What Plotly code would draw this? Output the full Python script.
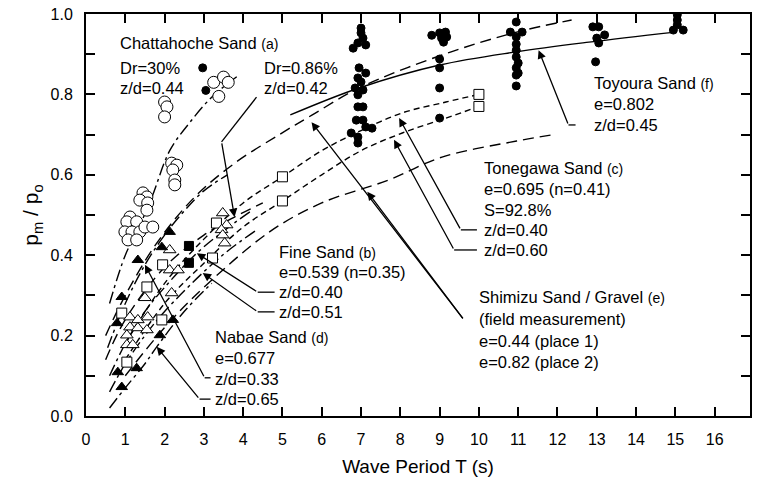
import plotly.graph_objects as go

# ---------------- measured points ----------------
# Chattahoche Sand (a), Dr=30 %, z/d=0.44 : open circles
chat30_T = [3.25, 3.5, 3.62, 3.38, 2.0, 2.06, 2.0, 2.18, 2.31, 2.21, 2.26, 2.26,
            1.45, 1.55, 1.37, 1.57, 1.55, 1.12, 1.04, 1.29, 0.99, 1.17, 1.37,
            1.07, 1.29, 1.50, 1.70]
chat30_p = [0.83, 0.843, 0.83, 0.795, 0.781, 0.769, 0.744, 0.629, 0.624, 0.612,
            0.587, 0.575, 0.555, 0.545, 0.537, 0.53, 0.512, 0.495, 0.483, 0.483,
            0.458, 0.458, 0.458, 0.438, 0.438, 0.47, 0.47]

# Chattahoche Sand (a), Dr=0.86 % : filled circles
chat86_T = [2.97, 3.05]
chat86_p = [0.866, 0.81]

# Toyoura Sand (f) : filled circles
toy_T = [7.0, 7.0, 7.05, 6.92, 7.12, 6.8, 6.95, 7.12, 6.92, 7.0, 6.85, 7.05,
         6.92, 6.92, 7.05, 6.88, 7.05, 7.12, 7.28, 6.75, 6.92, 6.92,
         8.8, 9.0, 9.15, 9.05, 9.18, 9.1, 9.0, 9.0, 9.0, 9.0,
         10.95, 10.8, 11.1, 10.95, 10.95, 10.95, 10.95, 11.0, 10.95, 11.0, 10.95, 10.95,
         12.9, 13.05, 13.2, 13.0, 13.05, 12.97,
         15.05, 15.05, 15.05, 14.95, 15.2]
toy_p = [0.965, 0.953, 0.940, 0.928, 0.923, 0.915, 0.866, 0.853, 0.841, 0.831,
         0.816, 0.811, 0.799, 0.769, 0.769, 0.736, 0.736, 0.719, 0.716, 0.704,
         0.694, 0.679,
         0.947, 0.953, 0.955, 0.94, 0.943, 0.93, 0.888, 0.866, 0.816, 0.741,
         0.98, 0.955, 0.955, 0.943, 0.925, 0.91, 0.893, 0.878, 0.866, 0.853, 0.848, 0.821,
         0.968, 0.968, 0.948, 0.94, 0.928, 0.881,
         0.998, 0.985, 0.973, 0.96, 0.96]

# Tonegawa / Fine Sand : open squares
sq_T = [5.0, 5.0, 10.0, 10.0, 3.32, 3.22, 1.95, 1.55, 0.91, 1.93, 1.04]
sq_p = [0.595, 0.535, 0.80, 0.77, 0.48, 0.393, 0.376, 0.321, 0.256, 0.239, 0.134]

# Fine Sand (b) : filled squares
fsq_T = [2.62, 2.62]
fsq_p = [0.423, 0.381]

# Nabae Sand (d) : filled triangles
ftri_T = [2.13, 1.93, 1.32, 0.91, 0.79, 0.81, 1.29, 0.91, 2.21, 1.88]
ftri_p = [0.458, 0.42, 0.388, 0.296, 0.231, 0.109, 0.119, 0.072, 0.239, 0.201]

# open triangles
otri_T = [3.48, 3.58, 3.45, 3.48, 3.53, 2.13, 2.13, 2.34, 2.18, 1.5, 1.12, 1.32,
          1.57, 1.12, 1.32, 1.55, 1.04, 1.04, 1.19]
otri_p = [0.505, 0.475, 0.463, 0.45, 0.43, 0.413, 0.363, 0.363, 0.306, 0.294,
          0.246, 0.239, 0.246, 0.221, 0.219, 0.214, 0.201, 0.177, 0.177]

# ---------------- fitted curves ----------------
curve_a_T = [0.6, 1.0, 1.35, 1.68, 2.13, 2.64, 3.22, 3.85]
curve_a_p = [0.28, 0.40, 0.47, 0.545, 0.66, 0.73, 0.795, 0.845]

toy_curve_T = [5.2, 6.95, 9.0, 10.96, 12.8, 15.0]
toy_curve_p = [0.749, 0.816, 0.873, 0.906, 0.93, 0.955]

shim2_T = [0.5, 1.0, 1.8, 2.77, 3.8, 4.92, 5.76, 6.95, 9.06, 10.96, 12.36]
shim2_p = [0.20, 0.30, 0.43, 0.545, 0.63, 0.70, 0.749, 0.816, 0.898, 0.955, 0.985]

shim1_T = [1.0, 2.0, 3.0, 4.67, 6.0, 7.7, 9.06, 10.96, 11.9]
shim1_p = [0.10, 0.22, 0.32, 0.458, 0.53, 0.587, 0.644, 0.684, 0.70]

tone40_T = [1.0, 2.0, 3.0, 4.0, 5.0, 6.0, 7.0, 8.05, 9.16, 10.0]
tone40_p = [0.18, 0.33, 0.44, 0.53, 0.595, 0.66, 0.71, 0.754, 0.781, 0.80]

tone60_T = [1.0, 2.0, 3.0, 4.0, 5.0, 6.0, 7.0, 8.05, 9.16, 10.0]
tone60_p = [0.14, 0.28, 0.38, 0.47, 0.535, 0.60, 0.66, 0.704, 0.741, 0.77]

nab33_T = [0.55, 1.0, 1.5, 2.0, 2.5, 3.0, 3.6]
nab33_p = [0.17, 0.28, 0.376, 0.45, 0.51, 0.56, 0.60]

nab65_T = [0.6, 1.0, 1.5, 1.8, 2.5, 3.2]
nab65_p = [0.02, 0.07, 0.13, 0.172, 0.26, 0.33]

fine40_T = [0.6, 1.0, 1.5, 2.0, 2.82, 3.5, 4.2]
fine40_p = [0.10, 0.18, 0.26, 0.32, 0.405, 0.46, 0.51]

fine51_T = [0.6, 1.0, 1.5, 2.0, 2.97, 3.6, 4.3]
fine51_p = [0.06, 0.13, 0.20, 0.26, 0.356, 0.41, 0.46]

dr86_T = [0.5, 1.0, 2.0, 3.0, 3.78, 4.5]
dr86_p = [0.14, 0.24, 0.37, 0.45, 0.495, 0.53]

X_MAX = 16.9

fig = go.Figure()

def add_curve(T, p, dash):
    fig.add_trace(go.Scatter(x=T, y=p, mode="lines", line_shape="spline",
                             line=dict(color="black", width=1.4, dash=dash),
                             hoverinfo="skip", showlegend=False))

LONG = "11px,6px"
SHORT = "6px,4px"
DASHDOT = "12px,4px,3px,4px"

add_curve(curve_a_T, curve_a_p, DASHDOT)
add_curve(shim2_T, shim2_p, LONG)
add_curve(shim1_T, shim1_p, LONG)
add_curve(tone40_T, tone40_p, SHORT)
add_curve(tone60_T, tone60_p, SHORT)
add_curve(nab33_T, nab33_p, DASHDOT)
add_curve(nab65_T, nab65_p, DASHDOT)
add_curve(fine40_T, fine40_p, DASHDOT)
add_curve(fine51_T, fine51_p, DASHDOT)
add_curve(dr86_T, dr86_p, LONG)
add_curve(toy_curve_T, toy_curve_p, "solid")

def add_points(T, p, symbol, size, fill):
    fig.add_trace(go.Scatter(x=T, y=p, mode="markers",
                             marker=dict(symbol=symbol, size=size, color=fill,
                                         line=dict(color="black", width=1)),
                             hoverinfo="skip", showlegend=False))

add_points(chat30_T, chat30_p, "circle", 12, "white")
add_points(chat86_T, chat86_p, "circle", 8, "black")
add_points(toy_T, toy_p, "circle", 8, "black")
add_points(sq_T, sq_p, "square", 10, "white")
add_points(fsq_T, fsq_p, "square", 9, "black")
add_points(otri_T, otri_p, "triangle-up", 11, "white")
add_points(ftri_T, ftri_p, "triangle-up", 10, "black")

# ---------------- labels ----------------
FAMILY = "Liberation Sans, Arial, sans-serif"
FONT = dict(family=FAMILY, size=16.5, color="black")

def sm(s):
    return "<span style='font-size:14px'>" + s + "</span>"

labels = [
    (0.82, 0.928, "Chattahoche Sand " + sm("(a)")),
    (0.82, 0.866, "Dr=30%"),
    (0.82, 0.816, "z/d=0.44"),
    (4.47, 0.866, "Dr=0.86%"),
    (4.47, 0.816, "z/d=0.42"),
    (12.87, 0.828, "Toyoura Sand " + sm("(f)")),
    (12.87, 0.776, "e=0.802"),
    (12.87, 0.724, "z/d=0.45"),
    (10.08, 0.617, "Tonegawa Sand " + sm("(c)")),
    (10.08, 0.565, "e=0.695 (n=0.41)"),
    (10.08, 0.512, "S=92.8%"),
    (10.08, 0.463, "z/d=0.40"),
    (10.08, 0.413, "z/d=0.60"),
    (4.87, 0.408, "Fine Sand " + sm("(b)")),
    (4.87, 0.358, "e=0.539 (n=0.35)"),
    (4.87, 0.308, "z/d=0.40"),
    (4.87, 0.259, "z/d=0.51"),
    (3.22, 0.197, "Nabae Sand " + sm("(d)")),
    (3.22, 0.144, "e=0.677"),
    (3.22, 0.092, "z/d=0.33"),
    (3.22, 0.042, "z/d=0.65"),
    (9.95, 0.296, "Shimizu Sand / Gravel " + sm("(e)")),
    (9.95, 0.241, "(field measurement)"),
    (9.95, 0.187, "e=0.44 (place 1)"),
    (9.95, 0.134, "e=0.82 (place 2)"),
]

annotations = []
for x, y, t in labels:
    annotations.append(dict(x=x, y=y, xref="x", yref="y", text=t, showarrow=False,
                             xanchor="left", yanchor="middle", font=FONT))

# leader lines (elbows) and arrow heads
leaders = [
    [(4.34, 0.793), (3.45, 0.682)],
    [(12.46, 0.724), (12.28, 0.724)],
    [(9.95, 0.463), (9.54, 0.463)],
    [(9.95, 0.413), (9.37, 0.413)],
    [(4.80, 0.308), (4.37, 0.308)],
    [(4.80, 0.259), (4.37, 0.259)],
    [(3.17, 0.095), (3.02, 0.095)],
    [(3.17, 0.042), (2.89, 0.042)],
]
arrows = [
    ((3.45, 0.682), (3.78, 0.495)),
    ((12.28, 0.724), (11.52, 0.91)),
    ((9.54, 0.463), (7.97, 0.741)),
    ((9.37, 0.413), (7.84, 0.687)),
    ((9.62, 0.239), (5.74, 0.731)),
    ((9.62, 0.239), (7.16, 0.558)),
    ((4.37, 0.308), (2.82, 0.405)),
    ((4.37, 0.259), (2.97, 0.356)),
    ((3.02, 0.095), (1.5, 0.376)),
    ((2.89, 0.042), (1.8, 0.172)),
]

shapes = []
for seg in leaders:
    (x0, y0), (x1, y1) = seg
    shapes.append(dict(type="line", xref="x", yref="y", x0=x0, y0=y0, x1=x1, y1=y1,
                       line=dict(color="black", width=1.3)))
for (tx, ty), (hx, hy) in arrows:
    annotations.append(dict(x=hx, y=hy, ax=tx, ay=ty, xref="x", yref="y",
                            axref="x", ayref="y", text="", showarrow=True,
                            arrowhead=2, arrowsize=1.3, arrowwidth=1.3,
                            arrowcolor="black", standoff=0, startstandoff=0))

# x tick label at the far right edge
annotations.append(dict(x=16.72, y=-0.0215, xref="x", yref="y", text="17",
                        showarrow=False, yanchor="top",
                        font=dict(family=FAMILY, size=16, color="black")))

x_ticks = list(range(0, 17))
y_ticks = [round(0.1 * i, 1) for i in range(11)]
y_text = ["%.1f" % v if i % 2 == 0 else "" for i, v in enumerate(y_ticks)]

fig.update_layout(
    width=757, height=491,
    margin=dict(l=86, r=5, t=14, b=75),
    paper_bgcolor="white", plot_bgcolor="white",
    font=FONT,
    shapes=shapes,
    annotations=annotations,
    xaxis=dict(range=[0, X_MAX], tickvals=x_ticks, ticktext=[str(v) for v in x_ticks],
               ticks="inside", ticklen=9, tickwidth=1.5, tickcolor="black",
               ticklabelstandoff=8,
               showline=True, linecolor="black", linewidth=2, mirror="ticks",
               showgrid=False, zeroline=False,
               title=dict(text="Wave Period T (s)", font=dict(size=19), standoff=12),
               tickfont=dict(size=16)),
    yaxis=dict(range=[0, 1.0], tickvals=y_ticks, ticktext=y_text,
               ticks="inside", ticklen=9, tickwidth=1.5, tickcolor="black",
               ticklabelstandoff=8,
               showline=True, linecolor="black", linewidth=2, mirror="ticks",
               showgrid=False, zeroline=False,
               title=dict(text="p<sub>m</sub> / p<sub>o</sub>", font=dict(size=21),
                          standoff=6),
               tickfont=dict(size=16)),
)

fig.write_html("out.html")
